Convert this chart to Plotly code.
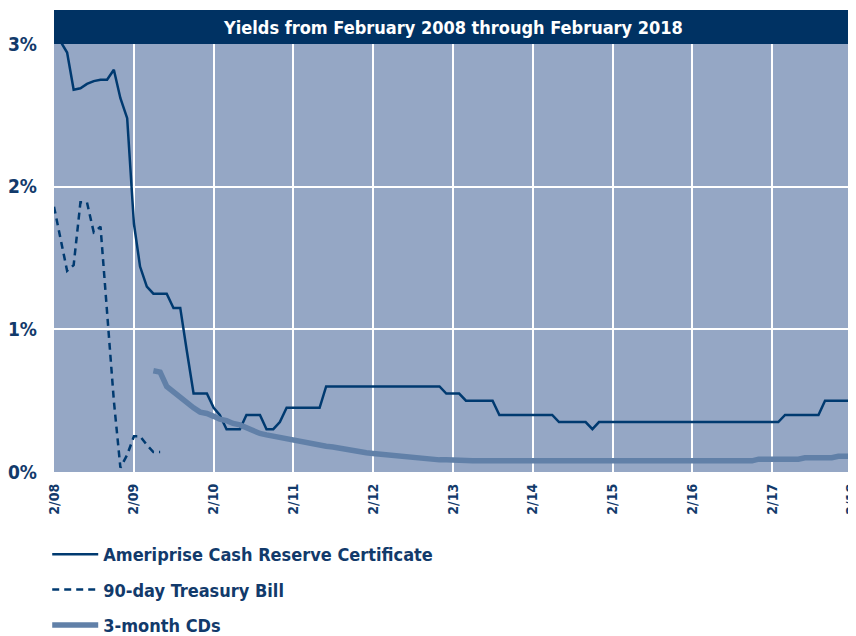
import pandas as pd
import plotly.graph_objects as go

# ---- data (monthly, Feb 2008 .. Feb 2018) ----
months = pd.date_range("2008-02-01", "2018-02-01", freq="MS")

ameriprise = (
    [3.08, 3.02, 2.94, 2.68, 2.69, 2.72, 2.74, 2.75, 2.75, 2.82, 2.62, 2.48,
     1.74, 1.44, 1.30, 1.25, 1.25, 1.25, 1.15, 1.15, 0.85, 0.55, 0.55, 0.55,
     0.45, 0.40, 0.30, 0.30, 0.30, 0.40, 0.40, 0.40, 0.30, 0.30, 0.35, 0.45,
     0.45, 0.45, 0.45, 0.45, 0.45, 0.60, 0.60, 0.60, 0.60, 0.60, 0.60, 0.60,
     0.60, 0.60, 0.60, 0.60, 0.60, 0.60, 0.60, 0.60, 0.60, 0.60, 0.60, 0.55,
     0.55, 0.55, 0.50, 0.50, 0.50, 0.50, 0.50, 0.40, 0.40, 0.40, 0.40, 0.40,
     0.40, 0.40, 0.40, 0.40, 0.35, 0.35, 0.35, 0.35, 0.35, 0.30, 0.35, 0.35,
     0.35, 0.35, 0.35, 0.35, 0.35, 0.35, 0.35, 0.35, 0.35, 0.35, 0.35, 0.35,
     0.35, 0.35, 0.35, 0.35, 0.35, 0.35, 0.35, 0.35, 0.35, 0.35, 0.35, 0.35,
     0.35, 0.35, 0.40, 0.40, 0.40, 0.40, 0.40, 0.40, 0.50, 0.50, 0.50, 0.50,
     0.50]
)

tbill = [1.86, 1.64, 1.41, 1.45, 1.89, 1.89, 1.68, 1.72, 1.12, 0.50, 0.03,
         0.12, 0.25, 0.25, 0.19, 0.14, 0.14]

cds_start = 15
cds = (
    [0.71, 0.70, 0.60, 0.56, 0.52, 0.49, 0.45, 0.42, 0.41, 0.39, 0.37, 0.36,
     0.34, 0.33, 0.31, 0.29, 0.27, 0.26, 0.25, 0.24, 0.23, 0.22, 0.21, 0.20,
     0.195, 0.19, 0.18, 0.175, 0.165, 0.155, 0.145, 0.14, 0.135, 0.13, 0.125,
     0.12, 0.115, 0.11, 0.105, 0.10, 0.095, 0.09, 0.09, 0.085, 0.085, 0.08,
     0.08, 0.08]
    + [0.078] * 43
    + [0.09, 0.09, 0.09, 0.09, 0.09, 0.09, 0.09, 0.10, 0.10, 0.10, 0.10, 0.10,
       0.11, 0.11, 0.11]
)

tick_dates = pd.date_range("2008-02-01", "2018-02-01", freq="12MS")
tick_labels = ["2/08", "2/09", "2/10", "2/11", "2/12", "2/13", "2/14",
               "2/15", "2/16", "2/17", "2/18"]
y_ticks = [0, 1, 2, 3]
y_labels = ["0%", "1%", "2%", "3%"]

title_text = "Yields from February 2008 through February 2018"
names = ["Ameriprise Cash Reserve Certificate", "90-day Treasury Bill", "3-month CDs"]

# ---- style ----
FONT = "DejaVu Sans Condensed, Liberation Sans Narrow, Arial Narrow, sans-serif"
NAVY = "#003A70"
TEXT = "#123A6B"
BAR = "#003263"
BG = "#95A7C5"
CD = "#6180A8"

fig = go.Figure()
fig.add_trace(go.Scatter(x=months, y=ameriprise, mode="lines", name=names[0],
                         legendgroup="a",
                         line=dict(color=NAVY, width=2.5)))
fig.add_trace(go.Scatter(x=months[:len(tbill)], y=tbill, mode="lines", name=names[1],
                         legendgroup="b",
                         line=dict(color=NAVY, width=2.5, dash="7px,5px")))
fig.add_trace(go.Scatter(x=months[cds_start:cds_start + len(cds)], y=cds, mode="lines",
                         name=names[2], legendgroup="c",
                         line=dict(color=CD, width=5.5)))

PLOT_H = 428
fig.add_shape(type="rect", xref="paper", yref="paper", x0=0, x1=1, y0=1,
              y1=1 + 34 / PLOT_H, fillcolor=BAR, line=dict(width=0), layer="above")
fig.add_annotation(text=title_text, xref="paper", yref="paper", x=0.5,
                   y=1 + 17 / PLOT_H, xanchor="center", yanchor="middle",
                   showarrow=False,
                   font=dict(family=FONT, size=18, color="white", weight="bold"))

fig.update_layout(
    width=856, height=636,
    margin=dict(l=46, r=12, t=36, b=172, autoexpand=False),
    paper_bgcolor="white", plot_bgcolor=BG,
    font=dict(family=FONT, color=TEXT),
    showlegend=True,
    legend=dict(x=-0.0085, y=-0.1495, xanchor="left", yanchor="top",
                orientation="v", traceorder="grouped", tracegroupgap=9,
                itemwidth=46, bgcolor="rgba(0,0,0,0)",
                font=dict(family=FONT, size=18, color=TEXT, weight="bold")),
)
fig.update_xaxes(range=[months[0], months[-1] + pd.Timedelta(hours=12)],
                 tickvals=tick_dates, ticktext=tick_labels,
                 tickangle=-90, showgrid=True, gridcolor="white", gridwidth=2,
                 ticks="", ticklabelstandoff=8, zeroline=False, showline=False,
                 automargin=False,
                 tickfont=dict(family=FONT, size=14, color=TEXT, weight="bold"))
fig.update_yaxes(range=[0, 3], tickvals=y_ticks, ticktext=y_labels,
                 showgrid=True, gridcolor="white", gridwidth=2,
                 ticks="", ticklabelstandoff=16, zeroline=False, showline=False,
                 automargin=False,
                 tickfont=dict(family=FONT, size=19, color=TEXT, weight="bold"))

fig.write_html("out.html")
